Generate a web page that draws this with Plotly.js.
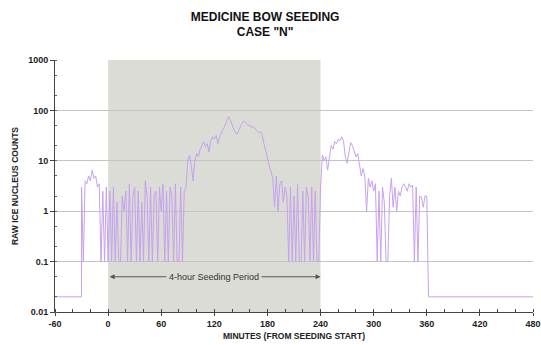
<!DOCTYPE html>
<html>
<head>
<meta charset="utf-8">
<script src="https://cdn.plot.ly/plotly-3.0.1.min.js"></script>
<style>html,body{margin:0;padding:0;background:#fff;}#chart{width:541px;height:345px;}</style>
</head>
<body>
<div id="chart"></div>
<script>
// Baseline segments (no detector data) before and after the measurement window
const preMinutes = [-60, -30];
const preCounts = [0.02, 0.02];
const postMinutes = [362, 480];
const postCounts = [0.02, 0.02];

// Raw ice nucleus counts, one sample every 2 minutes starting at -30 min
const firstSampleMinute = -30;
const sampleStepMinutes = 2;
const counts = [
  3, 0.1, 4, 3.5, 5, 4, 6.5, 4.5, 5, 3, 3.5, 0.1, 2.5, 0.1, 3, 0.1,          // -30 .. 0
  2.5, 0.1, 3, 0.1, 1.5, 0.1, 0.1, 2, 1, 2.5, 0.1, 3.5, 0.1, 2, 3,          // 2 .. 30
  0.1, 2.5, 0.1, 1.5, 0.1, 4, 2, 0.1, 3, 0.1, 2, 2.5, 0.1, 3, 1,            // 32 .. 60
  3.5, 0.1, 2.5, 0.1, 3, 2, 0.1, 3.5, 0.1, 0.1, 3, 0.1, 2.5,               // 62 .. 86
  3, 10, 13, 8, 4, 10, 14, 12, 17, 20, 24, 19, 22, 15, 25, 30, 27,          // 88 .. 120
  32, 22, 30, 35, 40, 50, 62, 75, 65, 50, 42, 36, 34, 42, 50, 58,           // 122 .. 152
  62, 55, 50, 52, 46, 48, 44, 40, 36, 38, 33, 22, 15, 11, 8, 6, 4.5,        // 154 .. 186
  1.2, 5, 1, 3.5, 4, 1.5, 3, 2, 0.1, 3, 0.1, 2, 0.1, 3.5, 0.1, 0.1,         // 188 .. 218
  2.5, 0.1, 3, 2, 0.1, 3, 0.1, 2.5, 0.1, 0.1, 3,                           // 220 .. 240
  13, 10, 12, 6.5, 12, 20, 17, 24, 22, 27, 25, 30, 24, 12, 9, 16,           // 242 .. 272
  23, 20, 15, 12, 14, 8, 5, 7, 5, 1, 4.5, 3, 4, 2.5, 3.5,                   // 274 .. 302
  0.1, 2.5, 0.1, 3, 1.5, 0.1, 0.1, 2, 4.5, 1.2, 3, 1, 2.5, 2,               // 304 .. 330
  3, 3.5, 3, 2.5, 3.5, 3, 3.3, 0.1, 3, 0.1, 2, 1.9, 1.2, 2, 2, 0.02         // 332 .. 362
];
const sampleMinutes = counts.map((_, i) => firstSampleMinute + i * sampleStepMinutes);

const allMinutes = preMinutes.concat(sampleMinutes, postMinutes);
const allCounts = preCounts.concat(counts, postCounts);

const seedingStart = 0;
const seedingEnd = 240;
const periodLabel = '4-hour Seeding Period';
const periodLabelValue = 0.05;

const yTickVals = [0.01, 0.1, 1, 10, 100, 1000];
const yTickText = ['0.01', '0.1', '1', '10', '100', '1000'];
const xTickVals = [-60, 0, 60, 120, 180, 240, 300, 360, 420, 480];

const lineColor = 'rgb(198,162,238)';
const shadeColor = '#dcdcd7';
const fam = 'Liberation Sans, Arial, sans-serif';

const trace = {
  x: allMinutes,
  y: allCounts,
  type: 'scatter',
  mode: 'lines',
  line: {color: lineColor, width: 1},
  hoverinfo: 'x+y'
};

const layout = {
  width: 541,
  height: 345,
  margin: {l: 55, r: 8, t: 60, b: 33},
  paper_bgcolor: '#ffffff',
  plot_bgcolor: '#ffffff',
  showlegend: false,
  title: {
    text: '<b>MEDICINE BOW SEEDING</b><br><b>CASE "N"</b>',
    font: {family: fam, size: 12, color: '#111'},
    x: 0.49, xref: 'container', xanchor: 'center',
    y: 0.94, yref: 'container', yanchor: 'top'
  },
  xaxis: {
    range: [-60, 480],
    tickvals: xTickVals,
    ticktext: xTickVals.map(String),
    ticks: 'outside', ticklen: 3, tickcolor: '#444',
    minor: {dtick: 20, tick0: 0, ticks: 'inside', ticklen: 3, tickcolor: '#444', showgrid: false},
    showgrid: false,
    showline: true, linecolor: '#444', linewidth: 1,
    zeroline: false,
    tickfont: {family: fam, size: 9, color: '#222', weight: 'bold'},
    title: {text: '<b>MINUTES (FROM SEEDING START)</b>', font: {family: fam, size: 8.5, color: '#222'}, standoff: 5}
  },
  yaxis: {
    type: 'log',
    range: [-2, 3],
    tickvals: yTickVals,
    ticktext: yTickText,
    ticks: 'outside', ticklen: 4, tickcolor: '#444',
    minor: {ticks: 'inside', ticklen: 2, tickcolor: '#666', showgrid: false},
    showgrid: true, gridcolor: '#c4c4c4', gridwidth: 1,
    showline: true, linecolor: '#444', linewidth: 1,
    zeroline: false,
    tickfont: {family: fam, size: 9, color: '#222', weight: 'bold'},
    title: {text: '<b>RAW ICE NUCLEUS COUNTS</b>', font: {family: fam, size: 8.5, color: '#222'}, standoff: 8}
  },
  shapes: [{
    type: 'rect', xref: 'x', yref: 'paper',
    x0: seedingStart, x1: seedingEnd, y0: 0, y1: 1,
    fillcolor: shadeColor, line: {width: 0}, layer: 'below'
  }],
  annotations: [
    {
      x: seedingEnd, y: Math.log10(periodLabelValue), xref: 'x', yref: 'y',
      ax: seedingStart, ay: Math.log10(periodLabelValue), axref: 'x', ayref: 'y',
      text: '', showarrow: true, arrowside: 'end+start',
      arrowhead: 2, arrowsize: 1, arrowwidth: 1, arrowcolor: '#555'
    },
    {
      x: (seedingStart + seedingEnd) / 2, y: Math.log10(periodLabelValue), xref: 'x', yref: 'y',
      text: periodLabel, showarrow: false,
      bgcolor: shadeColor, borderpad: 2,
      font: {family: fam, size: 9, color: '#333'}
    }
  ]
};

Plotly.newPlot('chart', [trace], layout, {displayModeBar: false, staticPlot: true});
</script>
</body>
</html>
